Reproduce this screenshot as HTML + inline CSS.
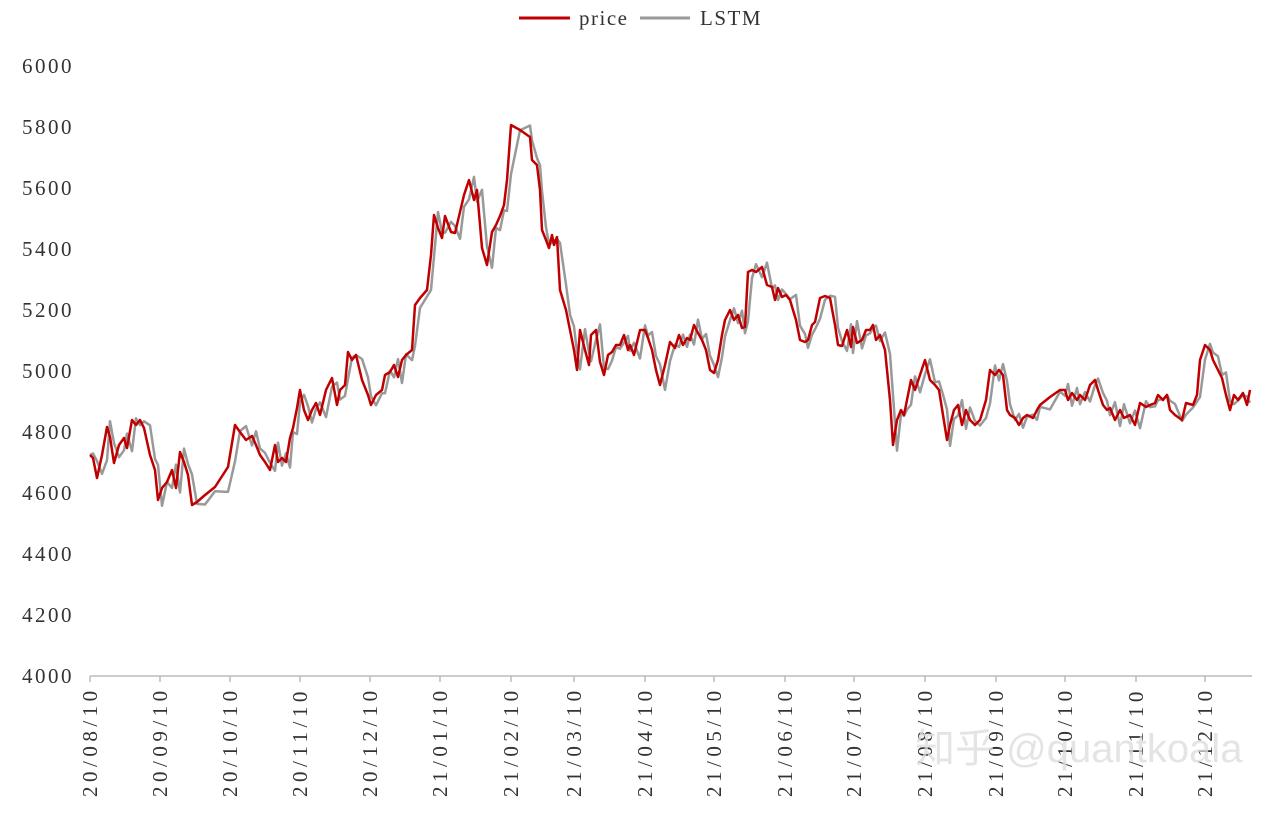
<!DOCTYPE html>
<html><head><meta charset="utf-8"><style>
body{margin:0;background:#fff;}
svg text{font-family:"Liberation Serif",serif;}
</style></head><body>
<svg id="s" width="1270" height="808" viewBox="0 0 1270 808" xmlns="http://www.w3.org/2000/svg">
<rect width="1270" height="808" fill="#fff"/>
<g font-size="21" fill="#333" text-anchor="end" letter-spacing="2.5">
<text x="74" y="73">6000</text><text x="74" y="134">5800</text><text x="74" y="195">5600</text>
<text x="74" y="256">5400</text><text x="74" y="317">5200</text><text x="74" y="378">5000</text>
<text x="74" y="439">4800</text><text x="74" y="500">4600</text><text x="74" y="561">4400</text>
<text x="74" y="622">4200</text><text x="74" y="683">4000</text>
</g>
<line x1="90" y1="676" x2="1252" y2="676" stroke="#bbb" stroke-width="1.5"/>
<g id="ticks" stroke="#bbb" stroke-width="1.5"></g>
<g id="xl" font-size="21" fill="#333" letter-spacing="4.5"></g>
<line x1="519" y1="18" x2="570" y2="18" stroke="#c00000" stroke-width="3"/>
<text x="579" y="25" font-size="21" fill="#333" letter-spacing="1.5">price</text>
<line x1="640" y1="18" x2="690" y2="18" stroke="#999" stroke-width="3"/>
<text x="700" y="25" font-size="21" fill="#333" letter-spacing="1.5">LSTM</text>
<polyline id="lstm" fill="none" stroke="#999" stroke-width="2.5" stroke-linejoin="round"/>
<polyline id="price" fill="none" stroke="#c00000" stroke-width="2.5" stroke-linejoin="round"/>
<text x="915" y="762" font-size="40" fill="#ddd" fill-opacity="0.8" style="font-family:'Liberation Sans','Noto Sans CJK SC',sans-serif">知乎 @quantkoala</text>
</svg>
<script>
var P=[90,455,93,458,97,478,102,455,107,427,110,437,114,463,119,445,124,438,127,448,132,420,136,425,140,420,144,428,150,455,155,470,158,500,162,488,167,482,172,470,176,488,180,452,184,462,188,475,192,505,197,502,205,495,215,487,228,467,235,425,240,432,246,440,252,436,256,445,260,455,265,462,270,470,275,445,278,462,282,458,286,462,290,438,293,428,297,408,300,390,304,410,308,420,312,410,316,403,320,415,326,390,332,378,337,405,340,390,345,385,348,352,352,360,356,355,362,380,368,395,371,405,376,395,382,390,385,375,390,372,394,365,398,377,402,360,406,355,412,350,415,305,420,298,427,290,431,255,434,215,438,228,442,238,445,216,451,232,455,233,460,212,464,195,469,180,474,200,477,190,482,248,487,265,492,232,496,225,500,216,504,205,507,180,511,125,520,130,530,137,532,160,537,165,540,190,542,230,546,240,549,248,552,235,554,245,557,237,560,290,566,310,570,330,574,350,577,370,580,330,585,350,589,365,591,335,596,330,600,362,604,375,608,355,612,352,616,345,620,345,624,335,628,350,630,345,634,355,640,330,645,330,648,338,652,350,656,370,660,385,665,365,670,342,675,348,679,335,683,345,687,338,690,340,694,325,698,333,702,340,706,350,710,370,714,373,718,360,722,335,725,320,730,310,734,320,738,315,742,328,745,327,748,272,752,270,756,272,762,267,767,285,772,287,775,300,778,288,782,297,786,295,790,300,796,320,800,340,805,342,808,340,812,325,815,322,820,298,825,296,830,298,835,325,838,345,842,346,847,330,851,347,853,327,857,343,862,340,866,330,870,330,873,325,876,340,880,335,885,350,890,400,893,445,897,420,901,410,904,415,907,400,911,380,915,390,920,375,925,360,930,380,935,385,939,390,943,415,947,440,950,425,954,410,958,405,962,425,966,410,970,420,975,425,980,420,986,400,990,370,995,375,999,370,1003,375,1007,410,1010,415,1015,418,1019,425,1023,418,1027,415,1033,418,1037,410,1040,405,1050,397,1060,390,1065,390,1068,400,1072,393,1077,400,1080,395,1085,400,1090,385,1095,380,1098,390,1103,405,1107,410,1110,408,1115,420,1120,410,1124,418,1130,415,1135,425,1140,403,1146,407,1150,405,1155,403,1158,395,1163,400,1167,395,1170,410,1175,415,1182,420,1186,403,1193,405,1197,395,1200,360,1205,345,1210,350,1213,360,1218,370,1222,378,1226,395,1230,410,1234,395,1238,400,1243,393,1247,405,1250,390];
var a=[],b=[];
for(var i=0;i<P.length;i+=2){a.push(P[i]+","+P[i+1]);
 var py=i>=2?P[i-1]:P[i+1];var n=Math.sin(i*1.7)*6;
 b.push(P[i]+","+(py+n).toFixed(1));}
document.getElementById("price").setAttribute("points",a.join(" "));
document.getElementById("lstm").setAttribute("points",b.join(" "));
var T=[[90,"20/08/10"],[160,"20/09/10"],[230,"20/10/10"],[300,"20/11/10"],[370,"20/12/10"],[440,"21/01/10"],[511,"21/02/10"],[574,"21/03/10"],[645,"21/04/10"],[714,"21/05/10"],[785,"21/06/10"],[854,"21/07/10"],[925,"21/08/10"],[996,"21/09/10"],[1065,"21/10/10"],[1136,"21/11/10"],[1205,"21/12/10"]];
var tg=document.getElementById("ticks"),xl=document.getElementById("xl"),ns="http://www.w3.org/2000/svg";
T.forEach(function(t){var l=document.createElementNS(ns,"line");l.setAttribute("x1",t[0]);l.setAttribute("x2",t[0]);l.setAttribute("y1",676);l.setAttribute("y2",682);tg.appendChild(l);
 var tx=document.createElementNS(ns,"text");tx.setAttribute("transform","translate("+(t[0]+7)+",797) rotate(-90)");tx.textContent=t[1];xl.appendChild(tx);});
</script>
</body></html>
